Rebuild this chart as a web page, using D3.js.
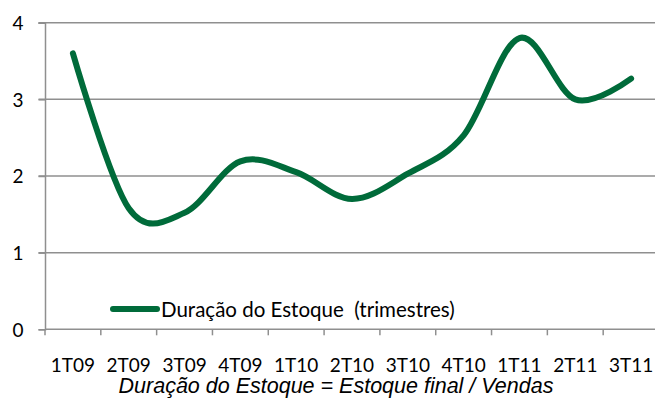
<!DOCTYPE html>
<html>
<head>
<meta charset="utf-8">
<script src="https://cdn.jsdelivr.net/npm/d3@7"></script>
<style>
  body { margin: 0; background: #fff; }
  svg { display: block; }
  .tick-lbl { font-family: Lato, "Open Sans", sans-serif; font-size: 19px; fill: #000; }
</style>
</head>
<body>
<svg id="chart" width="655" height="400"></svg>
<script>
// data
var quarters = ["1T09","2T09","3T09","4T09","1T10","2T10","3T10","4T10","1T11","2T11","3T11"];
var duracao = [3.60, 1.58, 1.52, 2.19, 2.05, 1.70, 2.03, 2.53, 3.80, 3.00, 3.27];
var yTicks = [0, 1, 2, 3, 4];
var seriesName = "Duração do Estoque  (trimestres)";
var caption = "Duração do Estoque = Estoque final / Vendas";

var svg = d3.select("#chart");
var plotLeft = 45, plotRight = 659, plotTop = 22.7, plotBottom = 329.3;

var x = d3.scaleBand().domain(quarters).range([plotLeft, plotRight]);
var y = d3.scaleLinear().domain([0, 4]).range([plotBottom, plotTop]);

// gridlines
svg.append("g")
  .selectAll("line")
  .data(yTicks.filter(function(d){ return d > 0; }))
  .enter().append("line")
    .attr("x1", plotLeft - 6.5).attr("x2", 655)
    .attr("y1", function(d){ return y(d); })
    .attr("y2", function(d){ return y(d); })
    .attr("stroke", "#8f8f8f").attr("stroke-width", 1.5);

// y axis
var yAxis = svg.append("g")
  .attr("transform", "translate(" + plotLeft + ",0)")
  .call(d3.axisLeft(y).tickValues(yTicks).tickSize(6.5).tickFormat(d3.format("d")));
yAxis.select(".domain").attr("stroke", "#8f8f8f").attr("stroke-width", 1.5);
yAxis.selectAll(".tick line").attr("stroke", "#8f8f8f").attr("stroke-width", 1.5);
yAxis.attr("font-family", null).attr("font-size", null);
yAxis.selectAll("text").attr("class", "tick-lbl")
  .attr("text-anchor", "middle").attr("x", -27).attr("dy", "0.36em");

// x axis: ticks between categories
var bounds = d3.range(quarters.length + 1).map(function(i){ return plotLeft + i * x.step(); });
svg.append("line")
  .attr("x1", plotLeft).attr("x2", 655).attr("y1", plotBottom).attr("y2", plotBottom)
  .attr("stroke", "#8f8f8f").attr("stroke-width", 1.5);
svg.append("g").selectAll("line")
  .data(bounds).enter().append("line")
    .attr("x1", function(d){ return d; }).attr("x2", function(d){ return d; })
    .attr("y1", plotBottom).attr("y2", plotBottom + 6)
    .attr("stroke", "#8f8f8f").attr("stroke-width", 1.5);
svg.append("g").selectAll("text")
  .data(quarters).enter().append("text")
    .attr("class", "tick-lbl")
    .attr("x", function(d){ return x(d) + x.bandwidth() / 2; })
    .attr("y", 372)
    .attr("text-anchor", "middle")
    .text(function(d){ return d; });

// series line (Excel-like smoothing)
var line = d3.line()
  .x(function(d, i){ return x(quarters[i]) + x.bandwidth() / 2; })
  .y(function(d){ return y(d); })
  .curve(d3.curveCardinal.tension(0));

svg.append("path")
  .datum(duracao)
  .attr("d", line)
  .attr("fill", "none")
  .attr("stroke", "#006b3a")
  .attr("stroke-width", 6)
  .attr("stroke-linecap", "round")
  .attr("stroke-linejoin", "round");

// legend
svg.append("line")
  .attr("x1", 113).attr("x2", 157).attr("y1", 309).attr("y2", 309)
  .attr("stroke", "#006b3a").attr("stroke-width", 6).attr("stroke-linecap", "round");
svg.append("text")
  .attr("class", "tick-lbl")
  .attr("x", 161).attr("y", 317)
  .style("font-size", "20.5px")
  .style("white-space", "pre")
  .text(seriesName);

// caption
svg.append("text")
  .attr("x", 336).attr("y", 393)
  .attr("text-anchor", "middle")
  .attr("font-family", "'Liberation Sans', Arial, sans-serif")
  .attr("font-style", "italic")
  .attr("font-size", 21.5)
  .attr("fill", "#000")
  .text(caption);
</script>
</body>
</html>
